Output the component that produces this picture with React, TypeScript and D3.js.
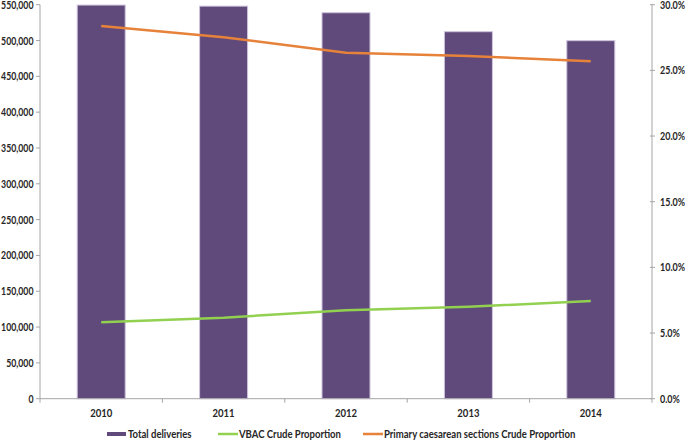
import React from "react";
import * as d3 from "d3";

const years = ["2010", "2011", "2012", "2013", "2014"];
const totalDeliveries = [549500, 548000, 538800, 512300, 499800];
const vbacProportion = [5.82, 6.17, 6.73, 7.0, 7.44];
const primaryCsProportion = [28.38, 27.52, 26.35, 26.09, 25.69];
const leftTicks = [0, 50000, 100000, 150000, 200000, 250000, 300000, 350000, 400000, 450000, 500000, 550000];
const rightTicks = [0, 5, 10, 15, 20, 25, 30];

const W = 685, H = 440;
const M = { left: 40, right: 652, top: 4.7, bottom: 398.7 };
const FONT = "Lato, 'Open Sans', sans-serif";
const FS = 11.5;
const SX = 0.83;
const TXT = "#262626";
const AX = "#A6A6A6";

function T({ x, y, anchor = "start", sx = SX, children }: { x: number; y: number; anchor?: string; sx?: number; children: React.ReactNode }) {
  return (
    <text transform={`translate(${x},${y}) scale(${sx},1)`} dy="0.35em" textAnchor={anchor}
      fontSize={FS} fontWeight="bold" fill={TXT}>{children}</text>
  );
}

export default function App() {
  const x = d3.scaleBand().domain(years).range([M.left, M.right]).paddingInner(0).paddingOuter(0);
  const yL = d3.scaleLinear().domain([0, 550000]).range([M.bottom, M.top]);
  const yR = d3.scaleLinear().domain([0, 30]).range([M.bottom, M.top]);
  const fmt = d3.format(",");
  const bw = 48;
  const cx = (y: string) => (x(y) as number) + x.bandwidth() / 2;
  const line = (vals: number[]) =>
    d3.line<number>().x((_, i) => cx(years[i])).y((v) => yR(v))(vals) as string;
  const bounds = [...years.map((y) => x(y) as number), M.right];

  return (
    <svg width={W} height={H} style={{ position: "absolute", left: 0, top: 0 }} fontFamily={FONT}>
      <rect width={W} height={H} fill="#fff" />
      {years.map((y, i) => (
        <rect key={y} x={cx(y) - bw / 2} y={yL(totalDeliveries[i])} width={bw}
          height={M.bottom - yL(totalDeliveries[i])} fill="#604A7B" stroke="#CFC4DD" strokeWidth={1} />
      ))}
      <path d={line(vbacProportion)} fill="none" stroke="#92D050" strokeWidth={2.5} />
      <path d={line(primaryCsProportion)} fill="none" stroke="#E6823A" strokeWidth={2.5} />
      {/* left axis */}
      <line x1={M.left} x2={M.left} y1={M.top} y2={M.bottom} stroke={AX} />
      {leftTicks.map((t) => (
        <g key={t}>
          <line x1={M.left - 4} x2={M.left} y1={yL(t)} y2={yL(t)} stroke={AX} />
          <T x={33.5} y={yL(t)} anchor="end" sx={0.76}>{fmt(t)}</T>
        </g>
      ))}
      {/* right axis */}
      <line x1={M.right} x2={M.right} y1={M.top} y2={M.bottom} stroke={AX} />
      {rightTicks.map((t) => (
        <g key={t}>
          <line x1={M.right - 2} x2={M.right + 3} y1={yR(t)} y2={yR(t)} stroke={AX} />
          <T x={660} y={yR(t)} sx={0.78}>{t.toFixed(1) + "%"}</T>
        </g>
      ))}
      {/* x axis */}
      <line x1={M.left} x2={M.right} y1={M.bottom} y2={M.bottom} stroke={AX} />
      {bounds.map((b, i) => (
        <line key={i} x1={b} x2={b} y1={M.bottom} y2={M.bottom + 4} stroke={AX} />
      ))}
      {years.map((y) => (
        <T key={y} x={cx(y)} y={413} anchor="middle">{y}</T>
      ))}
      {/* legend */}
      <rect x={107} y={432} width={19} height={4} fill="#604A7B" />
      <T x={128} y={434}>Total deliveries</T>
      <line x1={218} x2={238} y1={434} y2={434} stroke="#92D050" strokeWidth={2.5} />
      <T x={239} y={434}>VBAC Crude Proportion</T>
      <line x1={363} x2={383} y1={434} y2={434} stroke="#E6823A" strokeWidth={2.5} />
      <T x={384} y={434}>Primary caesarean sections Crude Proportion</T>
    </svg>
  );
}
